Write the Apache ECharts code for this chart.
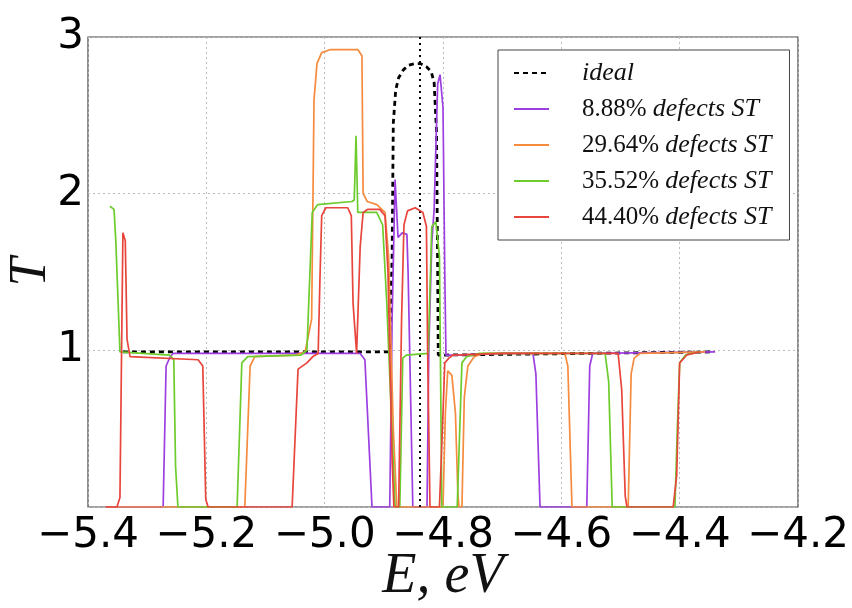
<!DOCTYPE html>
<html>
<head>
<meta charset="utf-8">
<script src="https://cdn.jsdelivr.net/npm/echarts@6/dist/echarts.min.js"></script>
<style>html,body{margin:0;padding:0;background:#fff}#c{width:852px;height:608px}</style>
</head>
<body>
<div id="c"></div>
<script>
var seriesNames = ['ideal', '8.88% defects ST', '29.64% defects ST', '35.52% defects ST', '44.40% defects ST'];
var xTicksMin = -5.4, xTicksMax = -4.2, xTickStep = 0.2;
var yTicks = [1, 2, 3];
var idealMarker = -4.842;

var idealData = [[-5.341,0.99],[-4.890,0.99],[-4.886,1.6],[-4.884,2.45],[-4.880,2.66],[-4.875,2.74],[-4.867,2.79],[-4.858,2.82],[-4.847,2.83],[-4.838,2.83],[-4.828,2.81],[-4.820,2.78],[-4.815,2.71],[-4.811,2.4],[-4.809,1.5],[-4.808,0.97],[-4.795,0.97],[-4.345,0.99]];

var purpleData = [[-5.37,0],[-5.273,0],[-5.268,0.9],[-5.261,0.96],[-5.256,0.98],[-4.940,0.98],[-4.932,0.94],[-4.920,0],[-4.890,0],[-4.886,1.2],[-4.881,2.09],[-4.876,1.72],[-4.869,1.75],[-4.861,1.74],[-4.859,1.5],[-4.851,0],[-4.827,0],[-4.824,1.0],[-4.819,1.68],[-4.815,1.9],[-4.809,2.7],[-4.805,2.76],[-4.800,2.55],[-4.797,1.5],[-4.795,0.97],[-4.78,0.97],[-4.70,0.98],[-4.648,0.98],[-4.643,0.85],[-4.636,0],[-4.557,0],[-4.552,0.9],[-4.547,0.98],[-4.340,0.99]];

var orangeData = [[-5.37,0],[-5.135,0],[-5.126,0.9],[-5.118,0.96],[-5.05,0.97],[-5.033,0.99],[-5.022,1.2],[-5.018,2.6],[-5.013,2.83],[-5.005,2.90],[-4.99,2.92],[-4.944,2.92],[-4.937,2.88],[-4.935,2.0],[-4.928,1.95],[-4.912,1.93],[-4.898,1.88],[-4.892,1.6],[-4.884,0.5],[-4.878,0],[-4.800,0],[-4.796,0.6],[-4.792,0.87],[-4.785,0.84],[-4.779,0.6],[-4.775,0.1],[-4.773,0],[-4.768,0],[-4.764,0.7],[-4.758,0.9],[-4.747,0.96],[-4.732,0.98],[-4.594,0.98],[-4.589,0.9],[-4.582,0],[-4.487,0],[-4.482,0.85],[-4.477,0.95],[-4.467,0.98],[-4.357,0.99]];

var greenData = [[-5.363,1.92],[-5.356,1.90],[-5.353,1.70],[-5.346,0.99],[-5.262,0.97],[-5.255,0.94],[-5.252,0.26],[-5.248,0],[-5.148,0],[-5.140,0.92],[-5.130,0.96],[-5.04,0.97],[-5.030,1.0],[-5.021,1.88],[-5.012,1.93],[-4.954,1.95],[-4.950,1.96],[-4.947,2.37],[-4.944,1.88],[-4.912,1.88],[-4.902,1.8],[-4.895,1.3],[-4.881,0],[-4.873,0],[-4.868,0.95],[-4.862,0.97],[-4.825,0.98],[-4.819,1.79],[-4.812,1.82],[-4.806,1.6],[-4.802,0],[-4.776,0],[-4.768,0.92],[-4.76,0.96],[-4.74,0.98],[-4.526,0.98],[-4.520,0.8],[-4.514,0],[-4.408,0],[-4.404,0.5],[-4.400,0.92],[-4.39,0.97],[-4.366,0.99]];

var redData = [[-5.37,0],[-5.351,0],[-5.346,0.06],[-5.341,1.75],[-5.337,1.70],[-5.334,1.07],[-5.329,0.96],[-5.214,0.94],[-5.206,0.9],[-5.201,0.05],[-5.197,0],[-5.055,0],[-5.045,0.88],[-5.030,0.92],[-5.020,0.96],[-5.011,0.98],[-5.008,1.45],[-5.005,1.86],[-4.998,1.91],[-4.961,1.91],[-4.955,1.86],[-4.952,1.3],[-4.946,0.98],[-4.940,1.66],[-4.935,1.88],[-4.927,1.90],[-4.907,1.90],[-4.898,1.86],[-4.893,1.5],[-4.886,0.3],[-4.883,0],[-4.875,0],[-4.870,1.2],[-4.866,1.8],[-4.860,1.89],[-4.847,1.91],[-4.834,1.88],[-4.828,1.79],[-4.826,1.0],[-4.822,0],[-4.806,0],[-4.800,0.6],[-4.797,0.92],[-4.790,0.95],[-4.783,0.97],[-4.70,0.98],[-4.504,0.98],[-4.498,0.75],[-4.492,0.07],[-4.489,0],[-4.411,0],[-4.405,0.2],[-4.400,0.92],[-4.388,0.97],[-4.366,0.99]];

var colors = ['#000000', '#9d3fe0', '#f58b3e', '#6ccc2c', '#e8453c'];
var seriesData = [idealData, purpleData, orangeData, greenData, redData];

var chart = echarts.init(document.getElementById('c'));

var series = seriesData.map(function (d, i) {
  var s = {
    name: seriesNames[i],
    type: 'line',
    data: d,
    symbol: 'none',
    showSymbol: false,
    smooth: false,
    animation: false,
    lineStyle: { color: colors[i], width: i === 0 ? 2.8 : 1.7, type: i === 0 ? [5, 4] : 'solid' },
    itemStyle: { color: colors[i] },
    z: 2 + i
  };
  if (i === 0) {
    s.markLine = {
      silent: true,
      symbol: 'none',
      label: { show: false },
      lineStyle: { color: '#000', width: 2, type: [2, 4] },
      data: [{ xAxis: idealMarker }]
    };
  }
  return s;
});

function legendFmt(name) {
  if (name === 'ideal') return '{sp|}{it|ideal}';
  var parts = name.split(' ');
  return '{sp|}{rm|' + parts[0] + ' }{it|' + parts.slice(1).join(' ') + '}';
}

chart.setOption({
  animation: false,
  grid: { left: 88, top: 37, right: 54, bottom: 101, containLabel: false, outerBoundsMode: 'none', show: true, borderColor: '#444', borderWidth: 1.2, backgroundColor: 'transparent' },
  legend: {
    data: seriesNames,
    orient: 'vertical',
    left: 498, top: 50,
    padding: [10, 18, 10, 15],
    itemGap: 10,
    itemWidth: 35, itemHeight: 14,
    backgroundColor: '#fff',
    borderColor: '#444', borderWidth: 1,
    itemStyle: { opacity: 0 },
    formatter: legendFmt,
    textStyle: {
      rich: {
        sp: { width: 28 },
        rm: { fontFamily: 'Liberation Serif', fontSize: 25, color: '#111', lineHeight: 26 },
        it: { fontFamily: 'Liberation Serif', fontStyle: 'italic', fontSize: 26, color: '#111', lineHeight: 26 }
      }
    }
  },
  xAxis: {
    type: 'value',
    min: xTicksMin, max: xTicksMax, interval: xTickStep,
    name: 'E, eV',
    nameLocation: 'middle',
    nameGap: 42,
    nameMoveOverlap: false,
    nameTextStyle: { fontFamily: 'Liberation Serif', fontStyle: 'italic', fontSize: 56, color: '#111' },
    axisLine: { show: false },
    axisTick: { show: false },
    axisLabel: {
      fontFamily: 'DejaVu Sans', fontSize: 42, color: '#000', margin: 8,
      showMinLabel: true, showMaxLabel: true,
      formatter: function (v) { return (Math.round(v * 10) / 10).toFixed(1).replace('-', '\u2212'); }
    },
    splitLine: { show: true, lineStyle: { color: '#bbb', type: [2, 3], width: 1 } }
  },
  yAxis: {
    type: 'value',
    min: 0, max: 3, interval: 1,
    name: 'T',
    nameLocation: 'middle',
    nameGap: 31,
    nameMoveOverlap: false,
    nameTextStyle: { fontFamily: 'Liberation Serif', fontStyle: 'italic', fontSize: 52, color: '#111' },
    axisLine: { show: false },
    axisTick: { show: false },
    axisLabel: {
      fontFamily: 'DejaVu Sans', fontSize: 42, color: '#000', margin: 4,
      formatter: function (v) { return yTicks.indexOf(Math.round(v)) >= 0 ? String(Math.round(v)) : ''; }
    },
    splitLine: { show: true, lineStyle: { color: '#bbb', type: [2, 3], width: 1 } }
  },
  series: series
});
</script>
</body>
</html>
